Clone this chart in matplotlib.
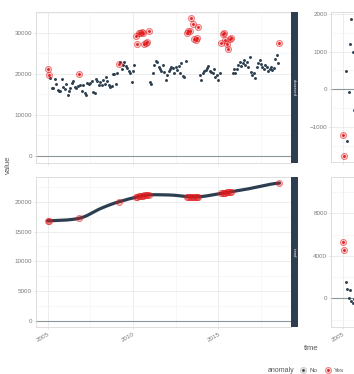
import numpy as np
import matplotlib
matplotlib.use("Agg")
import matplotlib.pyplot as plt
from matplotlib.lines import Line2D
from matplotlib.legend_handler import HandlerTuple

plt.rcParams["font.family"] = ["Liberation Sans", "DejaVu Sans"]

NAVY = "#2c3e50"
RED = "#e31a1c"
W, H = 354, 374

# monthly observations, Jan 2005 .. Aug 2018
observed = [
    21100, 19700, 18900, 16500, 16500, 18700, 17500, 16100, 15900, 15800, 18700, 16900,
    16200, 17500, 14800, 15900, 16500, 17700, 18300, 16900, 16600, 17100, 19900, 17300,
    15900, 17300, 15300, 14800, 17700, 17500, 17800, 18300, 15600, 15400, 18800, 18200,
    17400, 17900, 17300, 18400, 17600, 19200, 18300, 17300, 16900, 17000, 20000, 20000,
    17500, 20200, 22400, 22900, 21200, 22200, 22900, 22000, 21500, 20600, 20100, 18000,
    20800, 22100, 29300, 27300, 29900, 30100, 30300, 30100, 27400, 27600, 27700, 30400,
    18000, 17500, 20300, 22100, 23100, 22900, 21600, 21200, 20700, 22100, 20500, 18500,
    19700, 20600, 21300, 21800, 21500, 20100, 21800, 20900, 21900, 20100, 22600, 19500,
    19200, 23200, 30100, 30400, 30600, 33600, 32200, 28500, 28300, 28700, 31500, 19700,
    18500, 20300, 20700, 21000, 21500, 22000, 20800, 20500, 20300, 21200, 19300, 19800,
    18500, 20300, 27500, 29700, 29900, 28300, 27300, 26100, 28600, 28800, 20300, 21200,
    20300, 21200, 22200, 23000, 22000, 22700, 23500, 22100, 22900, 21800, 24200, 20500,
    19700, 20300, 19000, 21600, 22700, 23500, 22300, 21700, 21300, 22100, 21700, 20800,
    21200, 21700, 20900, 21500, 23600, 24500, 22600, 27600,
]

trend = [
    16800, 16810, 16820, 16830, 16840, 16850, 16860, 16870, 16880, 16890, 16900, 16910,
    16920, 16940, 16960, 16980, 17000, 17030, 17060, 17090, 17130, 17170, 17220, 17280,
    17350, 17430, 17520, 17620, 17730, 17850, 17980, 18110, 18240, 18370, 18500, 18620,
    18740, 18850, 18950, 19050, 19150, 19250, 19340, 19430, 19520, 19610, 19700, 19780,
    19850, 19920, 19990, 20060, 20130, 20200, 20270, 20340, 20410, 20470, 20530, 20590,
    20650, 20710, 20770, 20830, 20890, 20940, 20990, 21040, 21080, 21110, 21140, 21160,
    21170, 21180, 21190, 21190, 21190, 21190, 21180, 21180, 21170, 21170, 21160, 21160,
    21150, 21150, 21140, 21130, 21120, 21100, 21080, 21060, 21030, 21000, 20970, 20940,
    20920, 20900, 20880, 20870, 20860, 20850, 20840, 20840, 20840, 20840, 20850, 20860,
    20880, 20900, 20930, 20960, 21000, 21040, 21080, 21120, 21160, 21200, 21240, 21280,
    21320, 21360, 21400, 21440, 21480, 21520, 21560, 21600, 21640, 21680, 21720, 21760,
    21800, 21840, 21880, 21920, 21960, 22000, 22040, 22080, 22120, 22170, 22220, 22270,
    22320, 22370, 22420, 22470, 22520, 22570, 22620, 22670, 22720, 22770, 22820, 22870,
    22920, 22960, 23000, 23040, 23070, 23090, 23110, 23130,
]

# only the first months of season / remainder fall inside the crop
season = [-1220, -1760, 490, -1370, -70, 1210, 1875, 1000, -550, -900]
remainder = [5300, 4500, 1500, 900, 0, 750, -250, -400, -100, 200]

anomaly_idx = [0, 1, 22, 50,
               62, 63, 64, 65, 66, 67, 68, 69, 70, 71,
               98, 99, 100, 101, 102, 103, 104, 105, 106,
               122, 123, 124, 125, 126, 127, 128, 129,
               163]

n = len(observed)
t = 2005 + np.arange(n) / 12.0
anom = np.zeros(n, dtype=bool)
anom[anomaly_idx] = True

panels = {
    "observed": dict(values=np.array(observed), box=(35.7, 12, 290.7, 162.7),
                     ylim=(-1711, 35130), major=[0, 10000, 20000, 30000],
                     minor=[5000, 15000, 25000, 35000], bottom=False),
    "season": dict(values=np.array(season), box=(331, 12.3, 586, 162.3),
                   ylim=(-1938, 2044), major=[-1000, 0, 1000, 2000],
                   minor=[-1500, -500, 500, 1500], bottom=False),
    "trend": dict(values=np.array(trend), box=(35.7, 177.3, 290.7, 327.3),
                  ylim=(-1057, 24110), major=[0, 5000, 10000, 15000, 20000],
                  minor=[2500, 7500, 12500, 17500, 22500], bottom=True),
    "remainder": dict(values=np.array(remainder), box=(331, 177.3, 586, 327.3),
                      ylim=(-2729, 11388), major=[0, 4000, 8000],
                      minor=[-2000, 2000, 6000, 10000], bottom=True),
}

fig = plt.figure(figsize=(W / 100, H / 100), dpi=100)
fig.patch.set_facecolor("white")


def add_px_axes(left, top, right, bottom):
    return fig.add_axes([left / W, 1 - bottom / H, (right - left) / W, (bottom - top) / H])


for name, p in panels.items():
    l, tp, r, b = p["box"]
    ax = add_px_axes(l, tp, r, b)
    ax.set_xlim(2004.30, 2019.24)
    ax.set_ylim(*p["ylim"])
    ax.set_xticks([2005, 2010, 2015])
    ax.set_xticks([2007.5, 2012.5, 2017.5], minor=True)
    ax.set_yticks(p["major"])
    ax.set_yticks(p["minor"], minor=True)
    ax.grid(which="major", color="#e6e6e6", lw=0.5)
    ax.grid(which="minor", color="#f2f2f2", lw=0.4)
    ax.set_axisbelow(True)
    for s in ax.spines.values():
        s.set_color("#d9d9d9")
        s.set_linewidth(0.6)
    ax.tick_params(which="both", labelsize=4.5, labelcolor="#7a7a7a", color="#cccccc",
                   length=1.5, width=0.4, pad=1.2)
    ax.tick_params(which="minor", length=0)
    ax.axhline(0, color="#8e959b", lw=0.8, zorder=1)

    vals = p["values"]
    k = len(vals)
    tt = t[:k]
    aa = anom[:k]
    if name == "trend":
        ax.plot(tt, vals, color=NAVY, lw=2.3, solid_capstyle="round", zorder=2)
        ax.scatter(tt[aa], vals[aa], s=20, facecolor=(0.89, 0.1, 0.11, 0.3),
                   edgecolor=(0.89, 0.1, 0.11, 0.55), lw=0.6, zorder=3)
    else:
        ax.scatter(tt[~aa], vals[~aa], s=4.5, color=NAVY, lw=0, zorder=3)
        ax.scatter(tt[aa], vals[aa], s=20, facecolor=(0.89, 0.1, 0.11, 0.25),
                   edgecolor=(0.89, 0.1, 0.11, 0.55), lw=0.6, zorder=3)
        ax.scatter(tt[aa], vals[aa], s=4, color=RED, lw=0, zorder=4)

    if p["bottom"]:
        plt.setp(ax.get_xticklabels(), rotation=30, ha="right", rotation_mode="anchor")
    else:
        ax.tick_params(axis="x", labelbottom=False)

    # facet strip on the right side of each panel
    sax = add_px_axes(r, tp, r + 7, b)
    sax.set_facecolor(NAVY)
    sax.set_xticks([])
    sax.set_yticks([])
    for s in sax.spines.values():
        s.set_visible(False)
    sax.text(0.5, 0.5, name, rotation=-90, ha="center", va="center",
             color="white", fontsize=3, transform=sax.transAxes)

fig.text(8 / W, 1 - 165 / H, "value", rotation=90, ha="center", va="center",
         fontsize=5.5, color="#555555")
fig.text(311 / W, 1 - 348 / H, "time", ha="center", va="center",
         fontsize=5.5, color="#555555")
fig.text(268 / W, 1 - 370 / H, "anomaly", ha="left", va="center",
         fontsize=5, color="#555555")

ring_no = Line2D([], [], ls="", marker="o", ms=4.5, mfc=(0.6, 0.6, 0.6, 0.25),
                 mec=(0.6, 0.6, 0.6, 0.5), mew=0.5)
dot_no = Line2D([], [], ls="", marker="o", ms=2, color=NAVY, mew=0)
ring_yes = Line2D([], [], ls="", marker="o", ms=4.5, mfc=(0.89, 0.1, 0.11, 0.25),
                  mec=(0.89, 0.1, 0.11, 0.55), mew=0.5)
dot_yes = Line2D([], [], ls="", marker="o", ms=2, color=RED, mew=0)
fig.legend([(ring_no, dot_no), (ring_yes, dot_yes)], ["No", "Yes"],
           handler_map={tuple: HandlerTuple(ndivide=1)},
           loc="center left", bbox_to_anchor=(300 / W, 1 - 370 / H),
           ncol=2, frameon=False, fontsize=4.5, handlelength=1.0,
           handletextpad=0.5, columnspacing=1.2, borderpad=0, borderaxespad=0,
           labelcolor="#555555")

fig.savefig("out.png", dpi=100, facecolor="white")
